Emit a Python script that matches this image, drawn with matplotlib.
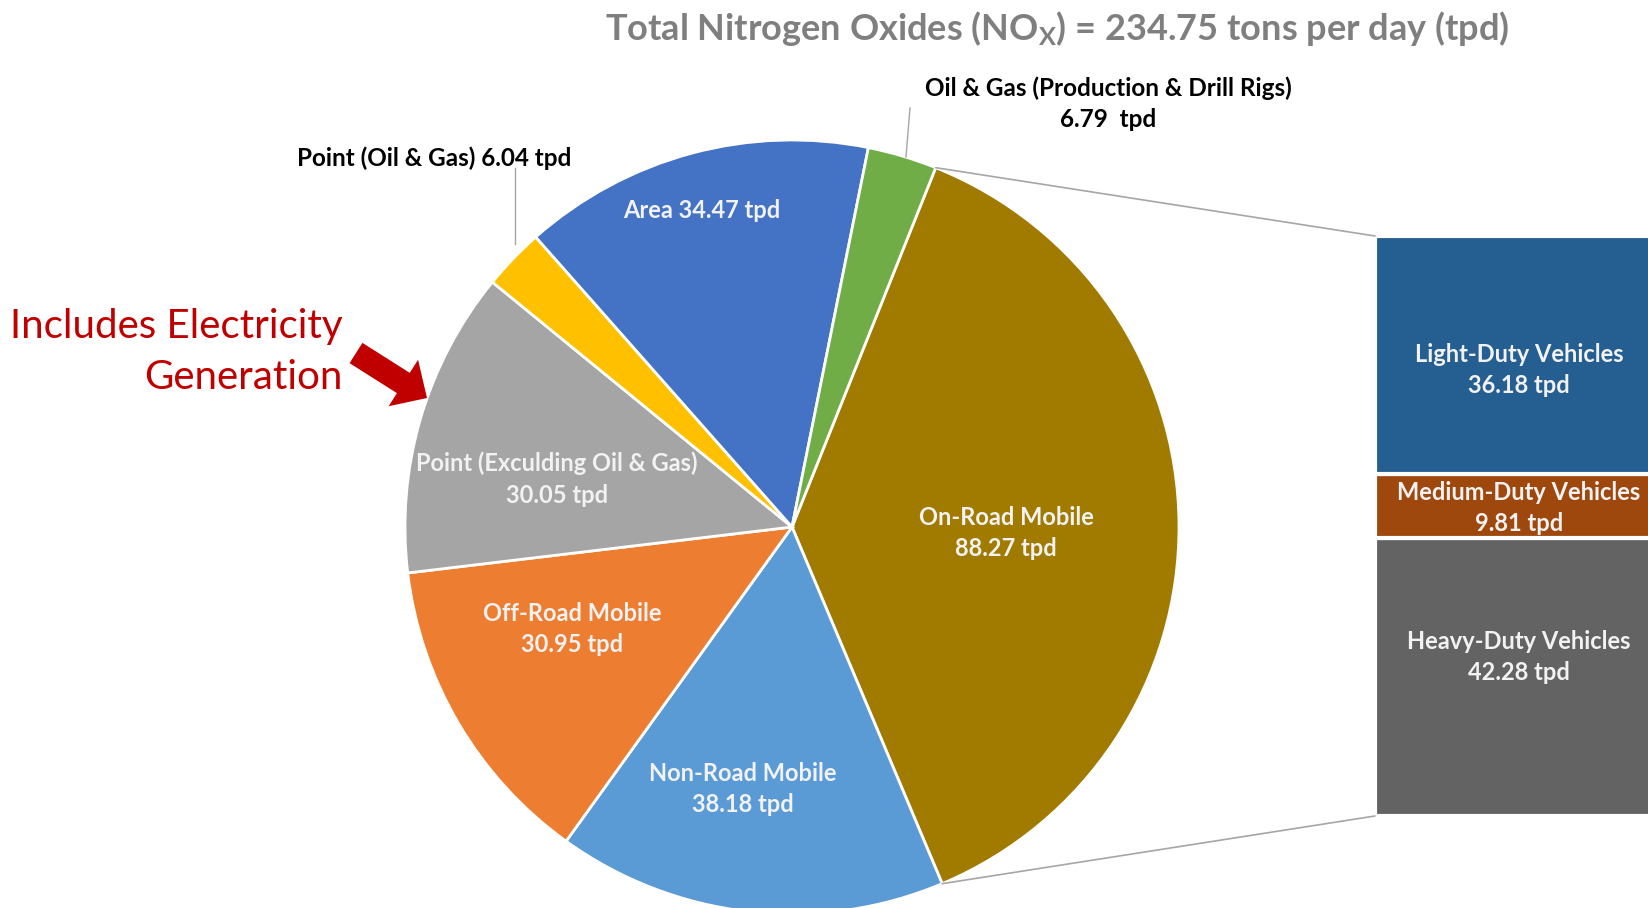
import numpy as np
import matplotlib.pyplot as plt
from matplotlib.patches import ConnectionPatch

# NOx emissions by source category (tons per day)
categories = ["On-Road Mobile", "Non-Road Mobile", "Off-Road Mobile",
              "Point (Exculding Oil & Gas)", "Point (Oil & Gas)", "Area",
              "Oil & Gas (Production & Drill Rigs)"]
values = [88.27, 38.18, 30.95, 30.05, 6.04, 34.47, 6.79]
colors = ["#A17A00", "#5B9BD5", "#ED7D31", "#A5A5A5", "#FFC000", "#4472C4", "#70AD47"]

# on-road breakdown, bottom to top
onroad_parts = ["Heavy-Duty Vehicles", "Medium-Duty Vehicles", "Light-Duty Vehicles"]
onroad_values = [42.28, 9.81, 36.18]
onroad_colors = ["#636363", "#9E480E", "#255E91"]

total = sum(values)
start_angle = 68.2

plt.rcParams['font.family'] = ['Lato', 'DejaVu Sans']
plt.rcParams['mathtext.fontset'] = 'custom'
plt.rcParams['mathtext.rm'] = 'Lato:bold'
plt.rcParams['mathtext.it'] = 'Lato:bold'
plt.rcParams['mathtext.bf'] = 'Lato:bold'

W, H = 1648, 908
fig = plt.figure(figsize=(W / 100, H / 100), dpi=100)
fig.patch.set_facecolor("white")

def Y(y):
    return H - y

# pie
cx, cy, r = 792, 527, 387
pax = fig.add_axes([(cx - r) / W, (H - cy - r) / H, 2 * r / W, 2 * r / H])
wedges, _ = pax.pie(values, colors=colors, startangle=start_angle, counterclock=False,
                    radius=1, wedgeprops=dict(edgecolor="white", linewidth=2))
pax.set_xlim(-1, 1)
pax.set_ylim(-1, 1)
pax.set_aspect("equal")
pax.axis("off")

# stacked bar for the on-road split
bx0, bx1, by0, by1 = 1375, 1664, 236, 816
bax = fig.add_axes([bx0 / W, (H - by1) / H, (bx1 - bx0) / W, (by1 - by0) / H])
bottom = 0
for name, v, c in zip(onroad_parts, onroad_values, onroad_colors):
    bax.bar(0, v, bottom=bottom, width=1, color=c, edgecolor="white", linewidth=3)
    bottom += v
bax.set_xlim(-0.5, 0.5)
bax.set_ylim(0, sum(onroad_values))
bax.axis("off")

# connectors from the on-road wedge to the bar
th1 = np.deg2rad(start_angle)
th2 = np.deg2rad(start_angle - values[0] / total * 360)
for th, yb in [(th1, 1), (th2, 0)]:
    con = ConnectionPatch(xyA=(np.cos(th), np.sin(th)), coordsA=pax.transData,
                          xyB=(0, yb), coordsB=bax.transAxes,
                          color="#A6A6A6", linewidth=1.2)
    fig.add_artist(con)

# pixel overlay on top for text and the arrow
ax = fig.add_axes([0, 0, 1, 1])
ax.set_zorder(5)
ax.set_xlim(0, W)
ax.set_ylim(0, H)
ax.axis("off")

# title
ax.text(1057, Y(29), "Total Nitrogen Oxides (NO$_{\\mathrm{X}}$) = 234.75 tons per day (tpd)",
        ha="center", va="center", fontsize=26, fontweight="bold", color="#7F7F7F")

lab = dict(ha="center", va="center", fontsize=17, fontweight="bold",
           color="#F2F2F2", linespacing=1.45)
ax.text(702, Y(210), f"Area {values[5]:.2f} tpd", **lab)
ax.text(557, Y(479), f"{categories[3]}\n{values[3]:.2f} tpd", **lab)
ax.text(572, Y(629), f"{categories[2]}\n{values[2]:.2f} tpd", **lab)
ax.text(743, Y(789), f"{categories[1]}\n{values[1]:.2f} tpd", **lab)
ax.text(1006, Y(533), f"{categories[0]}\n{values[0]:.2f} tpd", **lab)

for name, v, yc in zip(onroad_parts, onroad_values, [657, 508, 370]):
    ax.text(1519, Y(yc), f"{name}\n{v:.2f} tpd", **lab)

# outside labels with leader lines
out = dict(ha="center", va="center", fontsize=17.5, fontweight="bold",
           color="black", linespacing=1.44)
ax.text(434, Y(158), f"{categories[4]} {values[4]:.2f} tpd", **out)
ax.plot([515, 515], [Y(168), Y(244)], color="#A6A6A6", linewidth=1)
ax.text(1108, Y(104), f"{categories[6]}\n{values[6]:.2f}  tpd", **out)
ax.plot([910, 906], [Y(108), Y(157)], color="#A6A6A6", linewidth=1)

# callout
ax.text(343, Y(352), "Includes Electricity\nGeneration", ha="right", va="center",
        fontsize=29, color="#C00000", linespacing=1.47)
ax.arrow(356, Y(353), 71, -45, width=24, head_width=55, head_length=28,
         length_includes_head=True, color="#C00000", linewidth=0)

fig.savefig("out.png", dpi=100, facecolor="white")
